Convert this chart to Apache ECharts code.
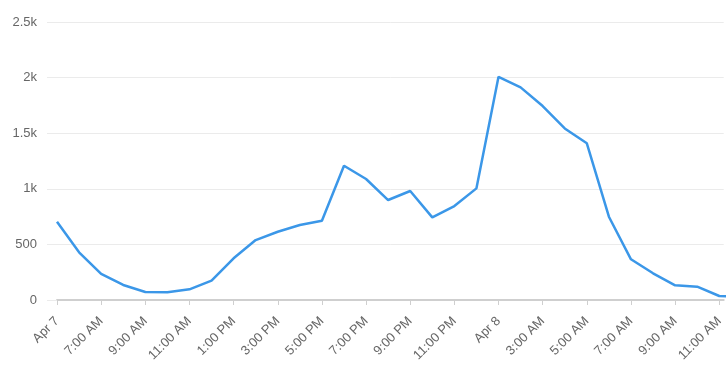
<!DOCTYPE html>
<html>
<head>
<meta charset="utf-8">
<script src="https://cdn.jsdelivr.net/npm/echarts@6/dist/echarts.min.js"></script>
<style>
html,body{margin:0;padding:0;background:#fff;}
#chart{width:726px;height:376px;}
</style>
</head>
<body>
<div id="chart"></div>
<script>
var categories = ["Apr 7","6:00 AM","7:00 AM","8:00 AM","9:00 AM","10:00 AM","11:00 AM","12:00 PM",
  "1:00 PM","2:00 PM","3:00 PM","4:00 PM","5:00 PM","6:00 PM","7:00 PM","8:00 PM","9:00 PM","10:00 PM",
  "11:00 PM","12:00 AM","Apr 8","2:00 AM","3:00 AM","4:00 AM","5:00 AM","6:00 AM","7:00 AM","8:00 AM",
  "9:00 AM","10:00 AM","11:00 AM","12:00 PM"];
var values = [704,429,234,135,72,69,96,174,375,539,614,674,713,1207,1088,899,980,743,845,1004,
  2007,1912,1744,1543,1409,749,366,240,132,120,36,30];
var yTicks = [0,500,1000,1500,2000,2500];
var yTickLabels = ["0","500","1k","1.5k","2k","2.5k"];

var seriesData = values.map(function(v, i){ return [i, v]; });

var chart = echarts.init(document.getElementById('chart'), null, {renderer:'canvas'});
chart.setOption({
  animation:false,
  grid:{left:57, right:0, top:22, bottom:76, containLabel:false},
  xAxis:{
    type:'value',
    min:0,
    max:30.2,
    interval:2,
    axisLine:{lineStyle:{color:'#cfcfcf', width:2}},
    axisTick:{show:true, length:5, lineStyle:{color:'#cfcfcf'}},
    axisLabel:{rotate:45, margin:19, color:'#666666', fontSize:13, fontFamily:'Liberation Sans, Arial, sans-serif',
      showMaxLabel:false,
      formatter:function(v){ return (Math.round(v) === v && v % 2 === 0) ? categories[v] : ''; }},
    splitLine:{show:false}
  },
  yAxis:{
    type:'value',
    min:yTicks[0],
    max:yTicks[yTicks.length-1],
    interval:500,
    axisLine:{show:false},
    axisTick:{show:true, length:10, lineStyle:{color:'#ebebeb'}},
    axisLabel:{margin:20, color:'#666666', fontSize:13, fontFamily:'Liberation Sans, Arial, sans-serif',
      formatter:function(v){ var i = yTicks.indexOf(v); return i>=0 ? yTickLabels[i] : ''; }},
    splitLine:{show:true, lineStyle:{color:'#ebebeb', width:1}}
  },
  series:[{
    type:'line',
    data:seriesData,
    showSymbol:false,
    symbol:'none',
    smooth:false,
    clip:true,
    lineStyle:{color:'#3b97e8', width:2.5},
    itemStyle:{color:'#3b97e8'}
  }]
});
</script>
</body>
</html>
